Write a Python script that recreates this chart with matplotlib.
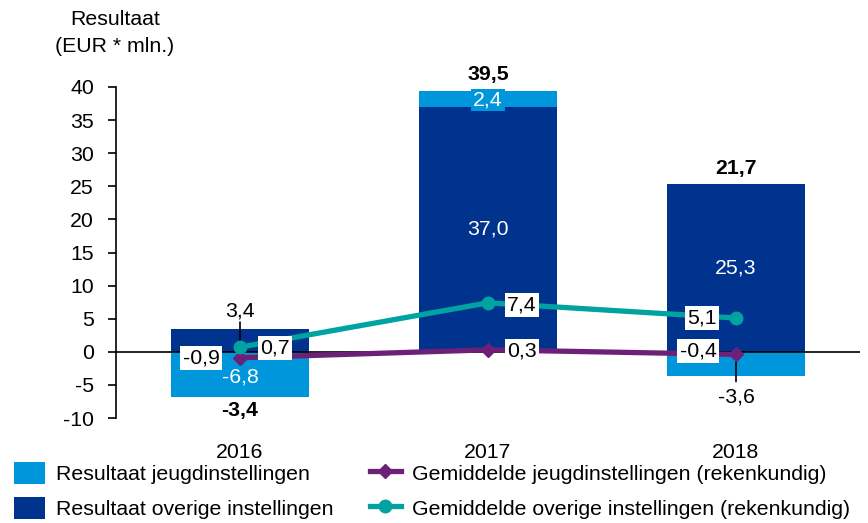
import matplotlib
matplotlib.use("Agg")
import matplotlib.pyplot as plt
import numpy as np

plt.rcParams['font.family'] = ['Liberation Sans', 'DejaVu Sans']
plt.rcParams['axes.unicode_minus'] = False

jaren = ['2016', '2017', '2018']
jeugd = [-6.8, 2.4, -3.6]
overige = [3.4, 37.0, 25.3]
totaal = [-3.4, 39.5, 21.7]
gem_jeugd = [-0.9, 0.3, -0.4]
gem_overige = [0.7, 7.4, 5.1]

licht = '#0096DC'
donker = '#00338D'
paars = '#6D2077'
teal = '#00A3A1'

def fmt(v):
    return f"{v:.1f}".replace('.', ',')

fig = plt.figure(figsize=(8.68, 5.23), dpi=100)
ax = fig.add_axes([116/868, 105/523, 744/868, 331/523])

x = np.arange(len(jaren))
w = 0.555
# stacked: positive values on positive side, negatives below
bottom_pos = np.zeros(3)
bottom_neg = np.zeros(3)
bars_o = ax.bar(x, overige, w, color=donker, zorder=2)
for i, v in enumerate(overige):
    if v >= 0:
        bottom_pos[i] += v
    else:
        bottom_neg[i] += v
jb = [bottom_pos[i] if v >= 0 else bottom_neg[i] for i, v in enumerate(jeugd)]
bars_j = ax.bar(x, jeugd, w, bottom=jb, color=licht, zorder=2)

ax.axhline(0, color='black', lw=1.2, zorder=3)

l1, = ax.plot(x, gem_jeugd, color=paars, lw=3.8, marker='D', ms=7, zorder=4)
l2, = ax.plot(x, gem_overige, color=teal, lw=3.8, marker='o', ms=9, zorder=4)

fs = 15.3

ax.set_xlim(-0.5, 2.5)
ax.set_ylim(-10, 40)
ax.set_yticks(range(-10, 41, 5))
ax.set_xticks(x)
ax.set_xticklabels(jaren)
for s in ['top', 'right', 'bottom']:
    ax.spines[s].set_visible(False)
ax.spines['left'].set_linewidth(1.2)
ax.tick_params(axis='y', length=6, width=1.2, pad=10, labelsize=fs)
ax.tick_params(axis='x', length=0, pad=18, labelsize=fs)

wbox = dict(boxstyle='square,pad=0.12', fc='white', ec='none')

# totals (bold)
for i, v in enumerate(totaal):
    if v < 0:
        ax.annotate(fmt(v), (x[i], jb[i] + jeugd[i]), xytext=(0, -14), textcoords='offset pixels',
                    ha='center', va='center', fontsize=fs, fontweight='bold')
    else:
        top = bottom_pos[i] + max(jeugd[i], 0)
        ax.annotate(fmt(v), (x[i], top), xytext=(0, 16), textcoords='offset pixels',
                    ha='center', va='center', fontsize=fs, fontweight='bold')

# overige labels
for i, v in enumerate(overige):
    if v > 10:
        ax.text(x[i], v / 2, fmt(v), ha='center', va='center', color='white', fontsize=fs, zorder=5)
ax.annotate(fmt(overige[0]), (x[0], overige[0]), xytext=(0, 18), textcoords='offset pixels',
            ha='center', va='center', fontsize=fs)
ax.annotate('', (x[0], 1.3), xytext=(x[0], overige[0] + 1.1),
            arrowprops=dict(arrowstyle='-', color='black', lw=1.2, shrinkA=0, shrinkB=0))

# jeugd labels
ax.text(x[0], jb[0] + jeugd[0] / 2 - 0.4, fmt(jeugd[0]), ha='center', va='center',
        color='white', fontsize=fs, zorder=5)
ax.text(x[1], jb[1] + jeugd[1] / 2 - 0.2, fmt(jeugd[1]), ha='center', va='center', color='white',
        fontsize=fs, zorder=5, bbox=dict(boxstyle='square,pad=0.08', fc=licht, ec='none'))
ax.annotate(fmt(jeugd[2]), (x[2], jeugd[2]), xytext=(0, -21), textcoords='offset pixels',
            ha='center', va='center', fontsize=fs)
ax.annotate('', (x[2], -1.6), xytext=(x[2], jeugd[2] - 0.9),
            arrowprops=dict(arrowstyle='-', color='black', lw=1.2, shrinkA=0, shrinkB=0))

# line labels
gj_off = [(-39, 0), (34, -1), (-38, 3)]
go_off = [(35, -1), (34, -2), (-34, 0)]
for i in range(3):
    ax.annotate(fmt(gem_jeugd[i]), (x[i], gem_jeugd[i]), xytext=gj_off[i], textcoords='offset pixels',
                ha='center', va='center', fontsize=fs, bbox=wbox, zorder=6)
    ax.annotate(fmt(gem_overige[i]), (x[i], gem_overige[i]), xytext=go_off[i], textcoords='offset pixels',
                ha='center', va='center', fontsize=fs, bbox=wbox, zorder=6)

fig.text(115/868, 1 - 33/523, 'Resultaat\n(EUR * mln.)', ha='center', va='center',
         fontsize=fs, multialignment='center', linespacing=1.5)

fig.legend([bars_j, bars_o, l1, l2],
           ['Resultaat jeugdinstellingen', 'Resultaat overige instellingen',
            'Gemiddelde jeugdinstellingen (rekenkundig)', 'Gemiddelde overige instellingen (rekenkundig)'],
           ncol=2, loc='upper left', bbox_to_anchor=(14/868, 1 - 462/523), frameon=False,
           fontsize=fs, handlelength=1.45, handleheight=1.2, handletextpad=0.55,
           labelspacing=0.6, columnspacing=1.68, borderpad=0, borderaxespad=0)

fig.savefig('out.png', dpi=100)
